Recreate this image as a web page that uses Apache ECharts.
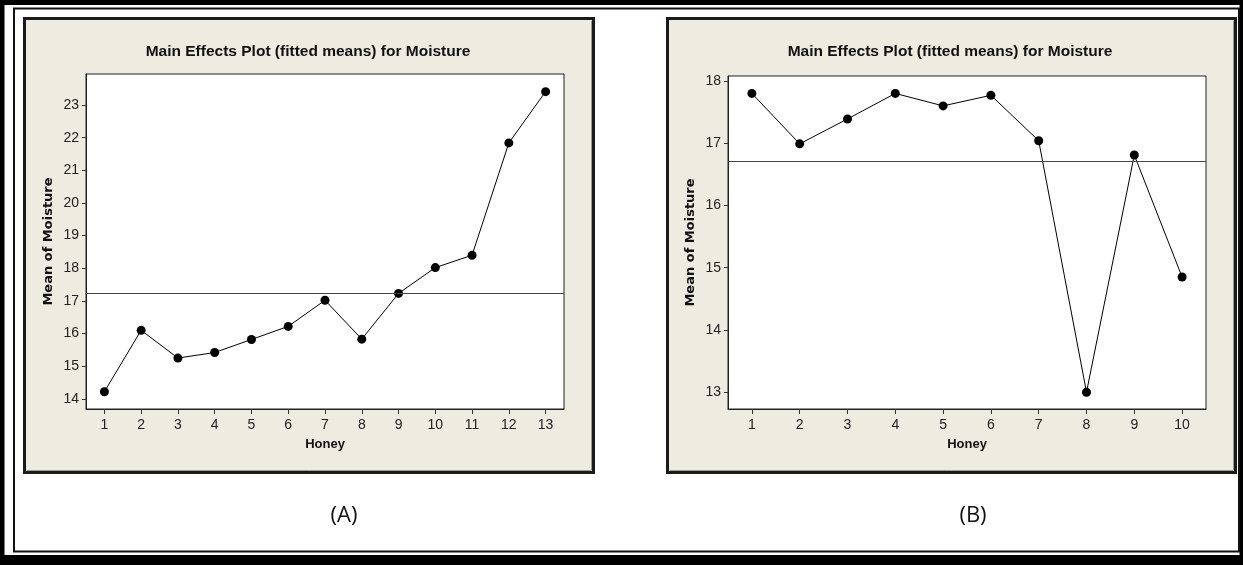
<!DOCTYPE html>
<html>
<head>
<meta charset="utf-8">
<script src="https://cdn.jsdelivr.net/npm/echarts@6/dist/echarts.min.js"></script>
<style>
  html, body { margin: 0; padding: 0; background: #fff; }
  #main { width: 1243px; height: 565px; }
</style>
</head>
<body>
<div id="main"></div>
<script>
// panel A
var honeyA = [1, 2, 3, 4, 5, 6, 7, 8, 9, 10, 11, 12, 13];
var moistureA = [14.22, 16.1, 15.25, 15.42, 15.82, 16.22, 17.02, 15.83, 17.23, 18.02, 18.4, 21.84, 23.41];
var meanA = 17.25;
var yTicksA = [14, 15, 16, 17, 18, 19, 20, 21, 22, 23];

// panel B
var honeyB = [1, 2, 3, 4, 5, 6, 7, 8, 9, 10];
var moistureB = [17.8, 16.99, 17.39, 17.8, 17.6, 17.77, 17.04, 13.0, 16.81, 14.85];
var meanB = 16.71;
var yTicksB = [13, 14, 15, 16, 17, 18];

var titleText = 'Main Effects Plot (fitted means) for Moisture';
var beige = '#eeebe1';

function pairs(xs, ys) {
    return xs.map(function (x, i) { return [x, ys[i]]; });
}

var myChart = echarts.init(document.getElementById('main'));

function xAxisOf(idx, max, ticks) {
    return {
        type: 'value', gridIndex: idx, min: 0.5, max: max,
        name: 'Honey', nameLocation: 'middle', nameGap: 29,
        nameTextStyle: { fontFamily: 'Liberation Sans', fontWeight: 'bold', fontSize: 13, color: '#111' },
        axisLine: { show: true, lineStyle: { color: '#222', width: 1 } },
        axisTick: { show: true, length: 5, customValues: ticks, lineStyle: { color: '#333' } },
        axisLabel: { customValues: ticks, margin: 9, fontFamily: 'Liberation Sans', fontSize: 14, color: '#222' },
        splitLine: { show: false }
    };
}

function yAxisOf(idx, min, max, ticks) {
    return {
        type: 'value', gridIndex: idx, min: min, max: max,
        name: 'Mean of Moisture', nameLocation: 'middle', nameGap: 31, nameRotate: 90,
        nameTextStyle: { fontFamily: 'DejaVu Sans', fontWeight: 'bold', fontSize: 13, color: '#111' },
        axisLine: { show: true, lineStyle: { color: '#222', width: 1 } },
        axisTick: { show: true, length: 4, customValues: ticks, lineStyle: { color: '#333' } },
        axisLabel: { customValues: ticks, margin: 7, fontFamily: 'Liberation Sans', fontSize: 14, color: '#222' },
        splitLine: { show: false }
    };
}

function seriesOf(idx, data, mean) {
    return {
        type: 'line', xAxisIndex: idx, yAxisIndex: idx,
        data: data,
        symbol: 'circle', symbolSize: 9,
        itemStyle: { color: '#000' },
        lineStyle: { color: '#000', width: 1 },
        silent: true, animation: false,
        markLine: {
            silent: true, symbol: 'none', label: { show: false },
            lineStyle: { color: '#444', width: 1, type: 'solid' },
            data: [{ yAxis: mean }]
        }
    };
}

var option = {
    animation: false,
    graphic: [
        // outer frame
        { type: 'rect', shape: { x: 2, y: 2.5, width: 1240, height: 557 }, style: { fill: 'none', stroke: '#000', lineWidth: 5 }, z: 0 },
        { type: 'rect', shape: { x: 0, y: 555, width: 1243, height: 10 }, style: { fill: '#000' } },
        { type: 'rect', shape: { x: 14, y: 8.5, width: 1225, height: 543 }, style: { fill: 'none', stroke: '#111', lineWidth: 2 } },
        // panels
        { type: 'rect', shape: { x: 24.5, y: 18.5, width: 569, height: 454 }, style: { fill: beige, stroke: '#1a1a1a', lineWidth: 3 }, z: -10 },
        { type: 'rect', shape: { x: 667.5, y: 18.5, width: 568, height: 454 }, style: { fill: beige, stroke: '#1a1a1a', lineWidth: 3 }, z: -10 },
        { type: 'polyline', shape: { points: [[27, 470.5], [591.5, 470.5], [591.5, 21]] }, style: { stroke: '#9d998f', lineWidth: 1, fill: 'none' } },
        { type: 'polyline', shape: { points: [[670, 470.5], [1233.5, 470.5], [1233.5, 21]] }, style: { stroke: '#9d998f', lineWidth: 1, fill: 'none' } },
        // titles
        { type: 'text', x: 308, y: 52, style: { text: titleText, textAlign: 'center', textVerticalAlign: 'middle', font: 'bold 15.5px "Liberation Sans"', fill: '#111' } },
        { type: 'text', x: 950, y: 52, style: { text: titleText, textAlign: 'center', textVerticalAlign: 'middle', font: 'bold 15.5px "Liberation Sans"', fill: '#111' } },
        // panel labels
        { type: 'text', x: 344, y: 516, style: { text: '(A)', textAlign: 'center', textVerticalAlign: 'middle', font: '22px "Open Sans"', fill: '#111' } },
        { type: 'text', x: 973, y: 516, style: { text: '(B)', textAlign: 'center', textVerticalAlign: 'middle', font: '22px "Open Sans"', fill: '#111' } }
    ],
    grid: [
        { left: 86, top: 74, width: 478, height: 335, show: true, backgroundColor: '#fff', borderColor: '#222', borderWidth: 1 },
        { left: 728, top: 76, width: 478, height: 333, show: true, backgroundColor: '#fff', borderColor: '#222', borderWidth: 1 }
    ],
    xAxis: [
        xAxisOf(0, 13.5, honeyA),
        xAxisOf(1, 10.5, honeyB)
    ],
    yAxis: [
        yAxisOf(0, 13.69, 23.95, yTicksA),
        yAxisOf(1, 12.73, 18.08, yTicksB)
    ],
    series: [
        seriesOf(0, pairs(honeyA, moistureA), meanA),
        seriesOf(1, pairs(honeyB, moistureB), meanB)
    ]
};
myChart.setOption(option);
</script>
</body>
</html>
